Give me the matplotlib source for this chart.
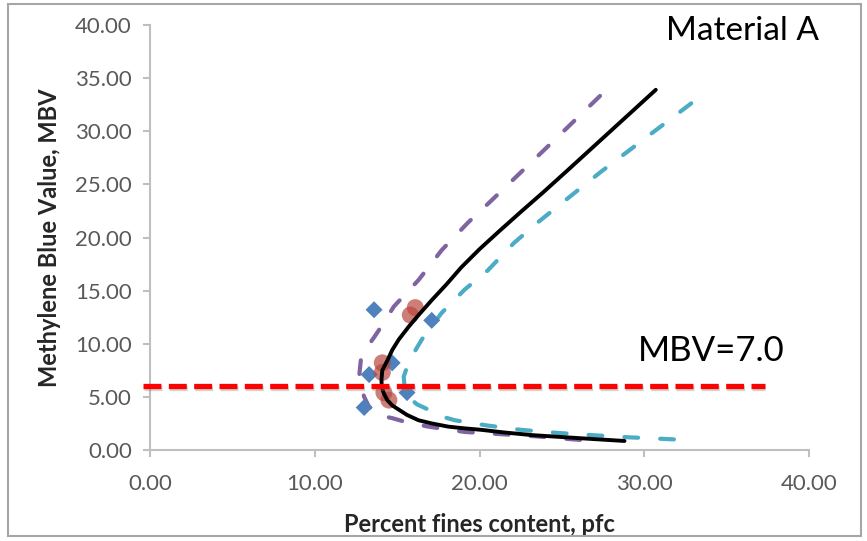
import matplotlib
matplotlib.use("Agg")
import matplotlib.pyplot as plt
import matplotlib.patheffects as pe
from matplotlib.patches import Rectangle

plt.rcParams['font.family'] = ['Lato', 'DejaVu Sans']

# ---- data ----
fit_x = [28.8, 26.2, 23.2, 21.5, 20.1, 19.0, 18.1, 17.1, 16.3, 15.6, 15.1, 14.7, 14.4, 14.2, 14.07, 14.05, 14.1, 14.4, 14.7,
         15.1, 15.7, 16.3, 17.1, 18.0, 18.9, 20.0, 21.2, 22.5, 23.9, 25.4, 30.7]
fit_y = [0.85, 1.1, 1.4, 1.65, 1.9, 2.05, 2.2, 2.5, 2.8, 3.3, 3.8, 4.2, 4.7, 5.3, 5.9, 6.6, 7.5, 8.4, 9.4,
         10.4, 11.6, 12.7, 14.1, 15.6, 17.2, 18.9, 20.6, 22.4, 24.3, 26.4, 33.9]

lower_x = [26.1, 23.3, 21.2, 19.1, 16.9, 15.6, 14.7, 14.1, 13.6, 13.25, 13.0, 12.8, 12.7, 12.8, 13.1, 13.6, 14.2, 14.8,
           16.3, 17.7, 19.3, 20.6, 24.1, 27.5]
lower_y = [0.95, 1.3, 1.5, 1.7, 2.2, 2.6, 3.0, 3.2, 3.5, 4.2, 5.0, 6.0, 7.0, 8.5, 9.5, 10.6, 12.0, 13.5,
           16.0, 18.8, 21.4, 23.3, 28.5, 33.6]

upper_x = [31.8, 29.0, 26.8, 24.8, 22.5, 20.5, 18.5, 17.6, 16.9, 16.2, 15.7, 15.45, 15.4, 15.6, 16.0, 16.5, 17.7, 19.1,
           20.5, 22.1, 23.6, 27.3, 33.0]
upper_y = [1.0, 1.2, 1.4, 1.6, 1.9, 2.3, 2.8, 3.2, 3.8, 4.3, 5.0, 6.0, 6.9, 7.8, 9.1, 10.4, 12.9, 15.1,
           16.9, 19.5, 21.5, 26.1, 32.8]

meas_x = [13.6, 17.1, 14.7, 13.3, 15.6, 13.0]
meas_y = [13.2, 12.2, 8.2, 7.1, 5.4, 4.0]

pred_x = [16.1, 15.8, 14.1, 14.1, 14.2, 14.5]
pred_y = [13.4, 12.7, 8.2, 7.3, 5.4, 4.7]

limit_x = [-0.4, 37.3]
limit_y = [6.0, 6.0]

x_ticks = [0, 10, 20, 30, 40]
y_ticks = [0, 5, 10, 15, 20, 25, 30, 35, 40]

# ---- figure ----
fig = plt.figure(figsize=(8.67, 5.41), dpi=100)
fig.patches.append(Rectangle((8/867, 1-536/541), 853/867, 532/541, transform=fig.transFigure,
                             fill=False, edgecolor='#a6a6a6', linewidth=1.5))
ax = fig.add_axes([150/867, 1-450/541, 659/867, 425/541])

ax.plot(lower_x, lower_y, color='#8064A2', lw=3.0, dashes=(3.3, 5.3), dash_capstyle='round', zorder=3)
ax.plot(upper_x, upper_y, color='#4BACC6', lw=3.0, dashes=(3.3, 5.3), dash_capstyle='round', zorder=3)
ax.scatter(meas_x, meas_y, marker='D', s=75, color='#4F81BD', edgecolors='none', zorder=4)
ax.scatter(pred_x, pred_y, marker='o', s=150, color='#B9473F', alpha=0.7, edgecolors='none', zorder=5)
ax.plot(fit_x, fit_y, color='black', lw=2.8, zorder=6, solid_capstyle='round', solid_joinstyle='round')
ax.plot(limit_x, limit_y, color='#FF0000', lw=3.8, dashes=(3.4, 1.4), zorder=7, clip_on=False,
        path_effects=[pe.SimpleLineShadow(offset=(0.5, -1.5), shadow_color='#808080', alpha=0.35), pe.Normal()])

ax.set_xlim(0, 40)
ax.set_ylim(0, 40)
ax.set_xticks(x_ticks)
ax.set_yticks(y_ticks)
ax.set_xticklabels([f"{v:.2f}" for v in x_ticks])
ax.set_yticklabels([f"{v:.2f}" for v in y_ticks])

for s in ['top', 'right']:
    ax.spines[s].set_visible(False)
for s in ['left', 'bottom']:
    ax.spines[s].set_color('#bfbfbf')
    ax.spines[s].set_linewidth(1.5)
ax.tick_params(axis='both', colors='#bfbfbf', length=5, width=1.5, labelcolor='#595959', labelsize=16)
ax.tick_params(axis='x', pad=12)
ax.tick_params(axis='y', pad=8)

ax.set_xlabel('Percent fines content, pfc', fontsize=17, fontweight='bold', color='#262626', labelpad=14)
ax.set_ylabel('Methylene Blue Value, MBV', fontsize=17, fontweight='bold', color='#262626', labelpad=10)

fig.text(742/867, 1-31/541, 'Material A', fontsize=24, ha='center', va='center', color='black')
fig.text(711/867, 1-351/541, 'MBV=7.0', fontsize=25, ha='center', va='center', color='black')

fig.savefig('out.png', dpi=100)
